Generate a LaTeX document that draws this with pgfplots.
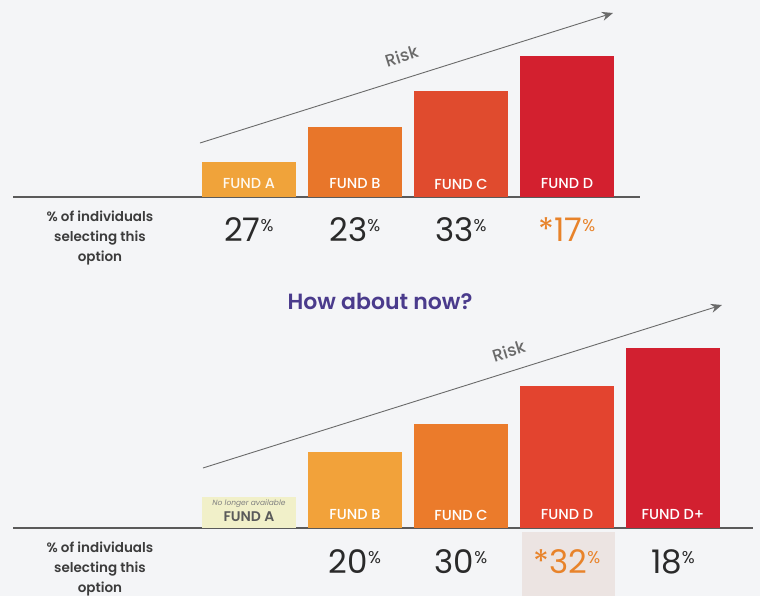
\documentclass[border=0pt]{standalone}
\usepackage{pgfplots}
\pgfplotsset{compat=1.18}
\usetikzlibrary{arrows.meta}
\usepackage{fontspec}
\setmainfont{Poppins}
\newfontfamily\popsemi{Poppins SemiBold}
\newfontfamily\popmed{Poppins Medium}
\definecolor{bg}{HTML}{F4F5F7}
\definecolor{linegray}{HTML}{5A5A5A}
\definecolor{arrowgray}{HTML}{6A6A6A}
\definecolor{txt}{HTML}{2A2A2A}
\definecolor{lbl}{HTML}{3C3C3C}
\definecolor{pctorange}{HTML}{E8832A}
\definecolor{titlepurple}{HTML}{4A3B8C}
\definecolor{tA}{HTML}{F0A33A}
\definecolor{tB}{HTML}{E8762A}
\definecolor{tC}{HTML}{E04B2E}
\definecolor{tD}{HTML}{D3202F}
\definecolor{bA}{HTML}{F1F0C9}
\definecolor{bB}{HTML}{F2A23A}
\definecolor{bC}{HTML}{EB7B2B}
\definecolor{bD}{HTML}{E3442F}
\definecolor{bDp}{HTML}{D22030}
\definecolor{pinkbox}{HTML}{ECE4E2}
\newcommand{\pct}[1]{#1\raisebox{10pt}{\fontsize{17}{17}\selectfont\%}}
\newcommand{\pctfont}{\fontsize{32.5}{32.5}\selectfont}
\newcommand{\fundfont}{\fontsize{14.5}{14.5}\selectfont\popmed}
\begin{document}
\begin{tikzpicture}[x=1pt,y=1pt]
\useasboundingbox (0,0) rectangle (760,596);
\fill[bg] (0,0) rectangle (760,596);
% ---------- top panel ----------
\begin{axis}[
  at={(13pt,399pt)}, anchor=south west,
  x=106pt, y=1pt,
  xmin=-2.226, xmax=3.689, ymin=0, ymax=190,
  axis x line*=bottom, axis y line=none,
  axis line style={draw=linegray, line width=1.1pt, -},
  xtick=\empty, ytick=\empty,
  clip=false,
]
\addplot[ybar, bar width=94pt, bar shift=0pt, fill=tA, draw=none] coordinates {(0,35)};
\addplot[ybar, bar width=94pt, bar shift=0pt, fill=tB, draw=none] coordinates {(1,70)};
\addplot[ybar, bar width=94pt, bar shift=0pt, fill=tC, draw=none] coordinates {(2,106)};
\addplot[ybar, bar width=94pt, bar shift=0pt, fill=tD, draw=none] coordinates {(3,141)};
\node[text=white!92!tA, font=\fundfont] at (axis cs:0,13) {FUND A};
\node[text=white, font=\fundfont] at (axis cs:1,13) {FUND B};
\node[text=white, font=\fundfont] at (axis cs:2,13) {FUND C};
\node[text=white, font=\fundfont] at (axis cs:3,13) {FUND D};
\draw[-{Stealth[length=11pt,width=9pt]}, draw=arrowgray, line width=0.9pt] (axis cs:-0.462,54) -- (axis cs:3.434,184);
\node[text=arrowgray, rotate=17.5, inner sep=1pt, font=\fontsize{17}{17}\selectfont\popmed] at (axis cs:1.44,141) {Risk};
\node[text=lbl, align=center, font=\fontsize{13.5}{20}\selectfont\popsemi] at (axis cs:-1.406,-41) {\% of individuals\\selecting this\\option};
\node[text=txt, font=\pctfont] at (axis cs:0,-33) {\pct{27}};
\node[text=txt, font=\pctfont] at (axis cs:1,-33) {\pct{23}};
\node[text=txt, font=\pctfont] at (axis cs:2,-33) {\pct{33}};
\node[text=pctorange, font=\pctfont] at (axis cs:3,-33) {\pct{*17}};
\end{axis}
% ---------- title ----------
\node[text=titlepurple, font=\fontsize{22}{22}\selectfont\popsemi] at (380,295) {How about now?};
% ---------- bottom panel ----------
\begin{axis}[
  at={(13pt,68pt)}, anchor=south west,
  x=106pt, y=1pt,
  xmin=-2.226, xmax=4.755, ymin=0, ymax=230,
  axis x line*=bottom, axis y line=none,
  axis line style={draw=linegray, line width=1.1pt, -},
  xtick=\empty, ytick=\empty,
  clip=false,
]
\addplot[ybar, bar width=94pt, bar shift=0pt, fill=bA, draw=none] coordinates {(0,31)};
\addplot[ybar, bar width=94pt, bar shift=0pt, fill=bB, draw=none] coordinates {(1,76)};
\addplot[ybar, bar width=94pt, bar shift=0pt, fill=bC, draw=none] coordinates {(2,104)};
\addplot[ybar, bar width=94pt, bar shift=0pt, fill=bD, draw=none] coordinates {(3,142)};
\addplot[ybar, bar width=94pt, bar shift=0pt, fill=bDp, draw=none] coordinates {(4,180)};
\node[text=gray, font=\fontsize{7.5}{7.5}\selectfont\itshape] at (axis cs:0,24) {No longer available};
\node[text=linegray, font=\fontsize{14}{14}\selectfont\popsemi] at (axis cs:0,11) {FUND A};
\node[text=white, font=\fundfont] at (axis cs:1,13) {FUND B};
\node[text=white, font=\fundfont] at (axis cs:2,13) {FUND C};
\node[text=white, font=\fundfont] at (axis cs:3,13) {FUND D};
\node[text=white, font=\fundfont] at (axis cs:4,13) {FUND D+};
\draw[-{Stealth[length=11pt,width=9pt]}, draw=arrowgray, line width=0.9pt] (axis cs:-0.434,60) -- (axis cs:4.462,223);
\node[text=arrowgray, rotate=17.5, inner sep=1pt, font=\fontsize{17}{17}\selectfont\popmed] at (axis cs:2.45,177) {Risk};
\node[text=lbl, align=center, font=\fontsize{13.5}{20}\selectfont\popsemi] at (axis cs:-1.406,-41) {\% of individuals\\selecting this\\option};
\fill[pinkbox] (axis cs:2.575,-4) rectangle (axis cs:3.453,-68);
\node[text=txt, font=\pctfont] at (axis cs:1,-34) {\pct{20}};
\node[text=txt, font=\pctfont] at (axis cs:2,-34) {\pct{30}};
\node[text=pctorange, font=\pctfont] at (axis cs:3,-34) {\pct{*32}};
\node[text=txt, font=\pctfont] at (axis cs:4,-34) {\pct{18}};
\end{axis}
\end{tikzpicture}
\end{document}
